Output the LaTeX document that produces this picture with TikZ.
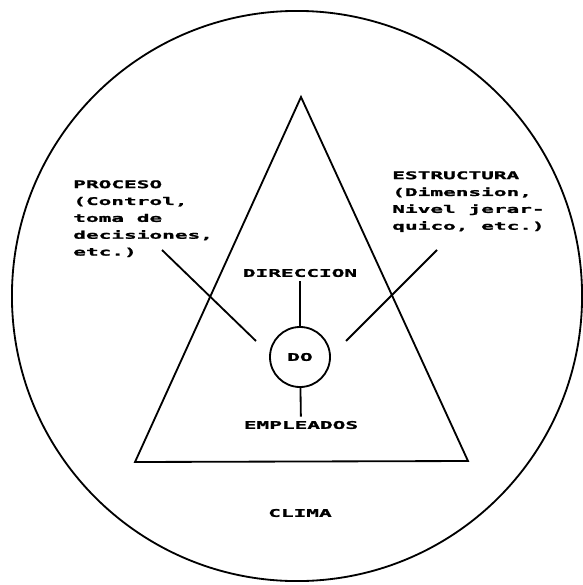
\documentclass[tikz,border=0pt]{standalone}
\usepackage{fontspec}
\newfontfamily\pixfont{DejaVu Sans Mono}[FakeStretch=2.0, FakeBold=1.6]
\usetikzlibrary{positioning}

\begin{document}
\begin{tikzpicture}[
  x=0.025cm, y=-0.025cm,
  txt/.style={font=\pixfont\bfseries\fontsize{7.5}{12}\selectfont, inner sep=0pt, align=left},
  lbl/.style={txt, inner sep=3pt},
  thick line/.style={line width=1.3pt},
  core/.style={draw, circle, line width=1.3pt, minimum size=1.5cm, inner sep=0pt}
]
\useasboundingbox (0,0) rectangle (583,585);
% clima
\draw[thick line] (297,296) circle[radius=7.125cm];
\node[lbl] (clima) at (300,513) {CLIMA};
% triangle
\coordinate (top) at (301,97);
\coordinate (bl) at (135,462);
\coordinate (br) at (468,461);
\draw[thick line] (top) -- (bl) -- (br) -- cycle;
% centre
\node[core] (do) at (300,357) {\pixfont\bfseries\fontsize{7.5}{12}\selectfont DO};
\node[lbl] (dir) at (300,273) {DIRECCION};
\node[lbl] (emp) at (301,425) {EMPLEADOS};
\draw[thick line] (dir) -- (do);
\draw[thick line] (do) -- (emp);
% side texts
\node[txt, anchor=north west] (proc) at (73,180) {PROCESO\\(Control,\\toma de\\decisiones,\\etc.)};
\node[txt, anchor=north west] (estr) at (392,171) {ESTRUCTURA\\(Dimension,\\Nivel jerar-\\quico, etc.)};
\coordinate (proc-end) at (162,250);
\coordinate (proc-in) at (256,341);
\coordinate (estr-end) at (437,250);
\coordinate (estr-in) at (346,341);
\draw[thick line] (proc-end) -- (proc-in);
\draw[thick line] (estr-end) -- (estr-in);
\end{tikzpicture}
\end{document}
